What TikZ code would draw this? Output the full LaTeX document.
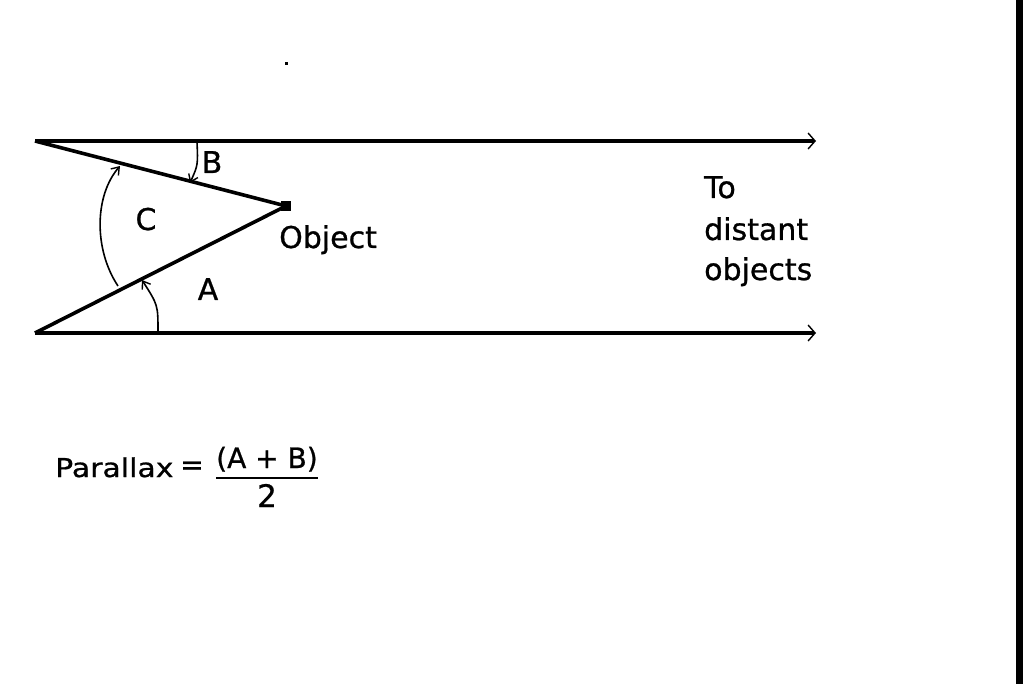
\documentclass[tikz,border=0pt]{standalone}
\usepackage{fontspec}
\setmainfont[FakeBold=0.8]{DejaVu Sans}
\usetikzlibrary{arrows.meta}
\tikzset{
  rail/.style={line width=3.2pt, -{Straight Barb[length=7pt,width=16pt,line width=1.4pt]}},
  sight/.style={line width=3.6pt},
  angarc/.style={line width=1.6pt, -{Straight Barb[length=7pt,width=10pt,line width=1.4pt]}},
  lbl/.style={inner sep=0pt, font=\fontsize{30}{36}\selectfont},
  frm/.style={inner sep=0pt, font=\fontsize{28}{32}\selectfont},
  objsq/.style={fill=black, inner sep=0pt, minimum size=10pt}
}
\begin{document}
\begin{tikzpicture}[x=1pt,y=-1pt]
\useasboundingbox (0,0) rectangle (1023,684);
\fill[white] (0,0) rectangle (1023,684);
\fill[black] (1016,0) rectangle (1023,684);
\fill[black] (285,62) rectangle (288,65);
% rails
\coordinate (TL) at (35,141);
\coordinate (TR) at (816,141);
\coordinate (BL) at (35,333);
\coordinate (BR) at (816,333);
\draw[rail] (TL) -- (TR);
\draw[rail] (BL) -- (BR);
% object
\node[objsq] (obj) at (286,206) {};
\draw[sight] (TL) -- (obj.center);
\draw[sight] (BL) -- (obj.center);
% angle arcs
\coordinate (cS) at (118,286);
\coordinate (cE) at (120,166);
\draw[angarc] (cS) .. controls (94,250) and (94,196) .. (cE);
\coordinate (aS) at (158,332);
\coordinate (aE) at (142,280);
\draw[angarc] (aS) .. controls (158,305) .. (aE);
\coordinate (bS) at (197,142);
\coordinate (bE) at (190,183);
\draw[angarc] (bS) .. controls (198,165) .. (bE);
% labels
\node[lbl, anchor=base] (B) at (212,173) {B};
\node[lbl, anchor=base] (C) at (146,230) {C};
\node[lbl, anchor=base] (A) at (208,300) {A};
\node[lbl, anchor=base west] (objt) at (279,248) {Object};
\node[lbl, anchor=base west] (t1) at (704,198) {To};
\node[lbl, anchor=base west] (t2) at (704,240) {distant};
\node[lbl, anchor=base west] (t3) at (704,280) {objects};
% formula
\node[frm, anchor=base west, font=\fontsize{26}{30}\selectfont\addfontfeature{FakeStretch=1.15}] (par) at (55,477) {Parallax};
\node[frm, anchor=center] (eq) at (192,468) {=};
\node[frm, anchor=base] (num) at (267,468) {(A + B)};
\node[frm, anchor=base, font=\fontsize{31}{34}\selectfont] (den) at (267,507) {2};
\coordinate (barL) at (216,478);
\coordinate (barR) at (318,478);
\draw[line width=2.4pt] (barL) -- (barR);
\end{tikzpicture}
\end{document}
